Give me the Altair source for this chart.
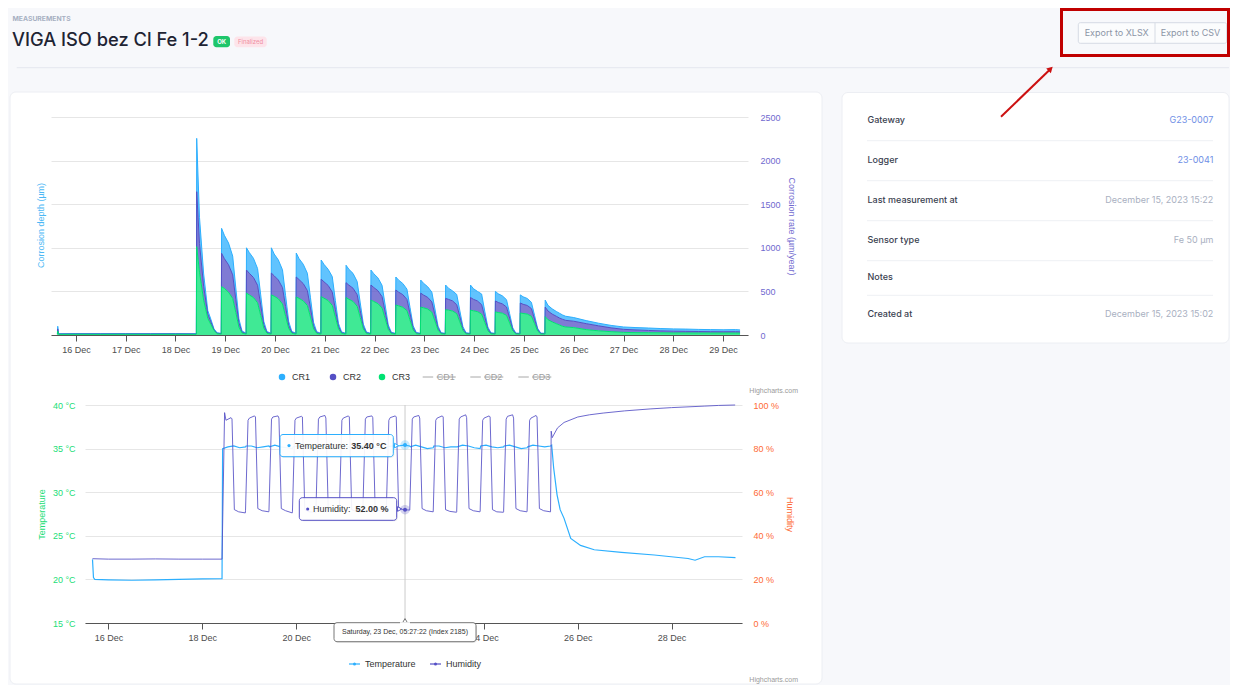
import altair as alt
import pandas as pd
from datetime import datetime, timedelta

# ---------------- data ----------------
CR_SERIES = ["CR1", "CR2", "CR3"]
CD_SERIES = ["CD1", "CD2", "CD3"]

CR_PRE_TIMES = ["2023-12-15T15:05", "2023-12-15T15:15", "2023-12-15T15:40",
                "2023-12-16T00:00", "2023-12-16T12:00", "2023-12-17T00:00",
                "2023-12-17T12:00", "2023-12-18T00:00", "2023-12-18T10:00"]
CR1_PRE = [5, 30, 4, 5, 4, 5, 4, 5, 4]
CR2_PRE = [4, 25, 4, 4, 5, 4, 5, 4, 4]
CR3_PRE = [6, 45, 7, 8, 7, 8, 7, 8, 7]

CYCLE_START = "2023-12-18T10:05"
CYCLE_HOURS = 12
CR_CYCLE_OFFSETS_H = [0, 0.15, 1.5, 3.5, 5.5, 7, 8.5, 10]
CR1_CYCLES = [
    [5, 612, 300, 140, 40, 30, 10, 5],
    [5, 286, 268, 250, 215, 130, 45, 12],
    [5, 255, 238, 220, 192, 115, 38, 10],
    [5, 290, 250, 230, 205, 125, 42, 11],
    [5, 275, 240, 222, 198, 118, 40, 11],
    [5, 220, 200, 185, 178, 100, 33, 9],
    [5, 200, 182, 170, 152, 90, 30, 8],
    [5, 172, 158, 148, 130, 78, 26, 7],
    [5, 149, 138, 128, 118, 68, 23, 7],
    [5, 150, 135, 122, 112, 66, 22, 6],
    [5, 153, 128, 115, 118, 66, 22, 6],
    [5, 143, 122, 110, 122, 64, 21, 6],
    [5, 110, 100, 92, 84, 50, 17, 5],
    [5, 93, 86, 80, 72, 42, 14, 5],
    [5, 80, 65, 60, 55, 55, 50, 47],
]
CR2_CYCLES = [
    [5, 630, 330, 160, 50, 30, 10, 5],
    [5, 383, 340, 315, 270, 150, 50, 12],
    [5, 265, 248, 230, 200, 120, 40, 10],
    [5, 250, 234, 216, 188, 112, 38, 10],
    [5, 229, 215, 198, 172, 104, 35, 9],
    [5, 200, 188, 174, 152, 90, 30, 8],
    [5, 170, 162, 152, 132, 78, 26, 8],
    [5, 173, 160, 148, 130, 78, 26, 7],
    [5, 172, 156, 145, 128, 76, 25, 7],
    [5, 160, 146, 134, 118, 72, 24, 6],
    [5, 130, 124, 116, 102, 62, 21, 6],
    [5, 145, 132, 122, 108, 64, 21, 6],
    [5, 125, 115, 107, 96, 57, 19, 5],
    [5, 115, 105, 99, 88, 53, 18, 5],
    [5, 110, 100, 90, 85, 80, 80, 76],
]
CR3_CYCLES = [
    [10, 1013, 720, 400, 190, 120, 50, 15],
    [10, 554, 535, 490, 420, 260, 90, 22],
    [10, 480, 460, 430, 370, 225, 78, 20],
    [10, 460, 445, 415, 355, 215, 75, 20],
    [10, 436, 420, 392, 338, 205, 70, 18],
    [10, 440, 422, 395, 340, 205, 70, 18],
    [10, 430, 410, 385, 330, 200, 68, 17],
    [10, 400, 385, 360, 310, 188, 64, 16],
    [10, 344, 335, 318, 280, 170, 58, 15],
    [10, 320, 312, 298, 262, 160, 55, 14],
    [10, 290, 285, 275, 245, 150, 52, 13],
    [10, 285, 278, 268, 240, 146, 50, 13],
    [10, 265, 258, 250, 225, 138, 47, 12],
    [10, 252, 247, 240, 215, 132, 45, 12],
    [10, 210, 175, 150, 130, 115, 100, 92],
]
CR_TAIL_TIMES = ["2023-12-26T00:00", "2023-12-26T06:00", "2023-12-26T12:00", "2023-12-26T18:00",
                 "2023-12-27T00:00", "2023-12-27T06:00", "2023-12-27T12:00", "2023-12-27T18:00",
                 "2023-12-28T00:00", "2023-12-28T06:00", "2023-12-28T12:00", "2023-12-28T18:00",
                 "2023-12-29T00:00", "2023-12-29T06:00", "2023-12-29T08:10"]
CR1_TAIL = [42, 35, 30, 28, 27, 27, 28, 27, 26, 26, 24, 24, 23, 24, 22]
CR2_TAIL = [73, 68, 57, 44, 35, 31, 26, 22, 20, 18, 17, 15, 14, 15, 14]
CR3_TAIL = [85, 62, 48, 38, 30, 27, 26, 25, 24, 24, 23, 23, 23, 23, 22]

TEMP_PRE_TIMES = ["2023-12-15T15:50", "2023-12-15T16:20", "2023-12-15T17:00", "2023-12-16T00:00",
                  "2023-12-16T12:00", "2023-12-17T00:00", "2023-12-17T12:00", "2023-12-18T00:00",
                  "2023-12-18T10:00"]
TEMP_PRE = [22.3, 20.2, 20.0, 19.95, 19.9, 19.95, 20.0, 20.05, 20.1]
TEMP_CYCLE_OFFSETS_H = [0, 0.3, 3, 6, 9]
TEMP_CYCLES = [
    [20.1, 35.0, 35.2, 35.3, 35.1],
    [35.2, 35.3, 35.3, 35.1, 35.2],
    [35.3, 35.2, 35.4, 35.2, 35.1],
    [35.0, 35.2, 35.3, 35.3, 35.2],
    [35.1, 35.2, 35.4, 35.2, 35.0],
    [35.1, 35.3, 35.3, 35.1, 35.2],
    [35.3, 35.2, 35.4, 35.2, 35.1],
    [35.0, 35.2, 35.3, 35.3, 35.4],
    [35.3, 35.2, 35.4, 35.2, 35.0],
    [35.1, 35.3, 35.3, 35.1, 35.2],
    [35.2, 35.2, 35.4, 35.3, 35.1],
    [35.0, 35.3, 35.4, 35.2, 35.1],
    [35.2, 35.3, 35.4, 35.2, 35.0],
    [35.1, 35.2, 35.4, 35.3, 35.2],
]
TEMP_TAIL_TIMES = ["2023-12-25T10:05", "2023-12-25T10:40", "2023-12-25T11:40", "2023-12-25T13:25",
                   "2023-12-25T15:00", "2023-12-25T17:00", "2023-12-25T20:25", "2023-12-26T01:25",
                   "2023-12-26T08:25", "2023-12-26T22:20", "2023-12-27T15:10", "2023-12-28T08:25",
                   "2023-12-28T12:00", "2023-12-28T16:50", "2023-12-29T00:00", "2023-12-29T08:40"]
TEMP_TAIL = [35.3, 35.4, 32.8, 29.7, 28.0, 27.0, 24.7, 23.9, 23.4, 23.1, 22.8, 22.4, 22.2, 22.6, 22.6, 22.5]

HUM_PRE_TIMES = ["2023-12-15T15:50", "2023-12-16T00:00", "2023-12-16T12:00", "2023-12-17T00:00",
                 "2023-12-17T12:00", "2023-12-18T00:00", "2023-12-18T10:00"]
HUM_PRE = [29.5, 29.3, 29.3, 29.4, 29.3, 29.3, 29.3]
HUM_CYCLE_OFFSETS_H = [0, 1.3, 2.0, 4.6, 5.1, 6.3, 8.5, 11.9]
HUM_CYCLES = [
    [29.3, 96.5, 93.0, 94.2, 93.6, 52.0, 51.0, 50.5],
    [51.5, 93.0, 94.0, 95.0, 94.5, 52.5, 51.5, 51.0],
    [51.5, 93.5, 94.5, 95.0, 94.0, 52.5, 51.5, 50.5],
    [51.0, 93.0, 94.0, 94.8, 94.5, 52.0, 51.0, 50.8],
    [51.0, 93.5, 94.5, 95.2, 94.0, 52.5, 51.5, 51.0],
    [51.5, 93.0, 94.0, 95.0, 94.5, 52.0, 51.2, 50.8],
    [51.2, 93.5, 94.5, 95.0, 94.2, 52.5, 51.5, 51.0],
    [51.5, 93.0, 94.2, 95.0, 94.5, 53.0, 52.0, 51.8],
    [51.8, 93.5, 94.5, 95.2, 94.0, 52.5, 51.5, 51.0],
    [51.0, 93.0, 94.0, 95.0, 94.5, 52.0, 51.2, 50.8],
    [51.0, 93.5, 94.5, 95.5, 94.2, 52.5, 51.5, 51.0],
    [51.2, 93.0, 94.0, 95.0, 94.5, 52.0, 51.0, 50.8],
    [51.0, 93.5, 94.8, 95.5, 94.0, 52.5, 51.5, 51.0],
    [51.2, 93.0, 94.0, 95.2, 94.5, 52.5, 51.5, 51.0],
]
HUM_TAIL_TIMES = ["2023-12-25T10:05", "2023-12-25T10:25", "2023-12-25T10:55", "2023-12-25T13:40",
                  "2023-12-25T17:00", "2023-12-26T00:00", "2023-12-26T06:00", "2023-12-26T13:00",
                  "2023-12-27T00:00", "2023-12-27T13:00", "2023-12-28T00:00", "2023-12-28T17:00",
                  "2023-12-29T00:00", "2023-12-29T08:30"]
HUM_TAIL = [51.0, 88.0, 85.0, 89.5, 92.0, 94.5, 95.5, 96.3, 97.3, 98.2, 98.8, 99.5, 99.8, 100.0]

HOVER_TIME = "2023-12-22T07:40"
HOVER_TEMP = 35.40
HOVER_HUM = 52.00
HOVER_HEADER = "Saturday, 23 Dec, 05:27:22 (Index 2185)"

INFO_LABELS = ["Gateway", "Logger", "Last measurement at", "Sensor type", "Notes", "Created at"]
INFO_VALUES = ["G23-0007", "23-0041", "December 15, 2023 15:22", "Fe 50 µm", "", "December 15, 2023 15:02"]
INFO_LINKS = [True, True, False, False, False, False]

PAGE_KICKER = "MEASUREMENTS"
PAGE_TITLE = "VIGA ISO bez Cl Fe 1-2"
BADGES = ["OK", "Finalized"]
BUTTONS = ["Export to XLSX", "Export to CSV"]
CREDIT = "Highcharts.com"

# ---------------- build tables ----------------
def iso(d):
    return d.strftime("%Y-%m-%dT%H:%M:%S")

start = datetime.fromisoformat(CYCLE_START)

def cycle_times(offsets, k):
    onset = start + timedelta(hours=CYCLE_HOURS * k)
    return [iso(onset + timedelta(hours=h)) for h in offsets]

cr_rows = []
for name, pre, cycles, tail in [("CR1", CR1_PRE, CR1_CYCLES, CR1_TAIL),
                                ("CR2", CR2_PRE, CR2_CYCLES, CR2_TAIL),
                                ("CR3", CR3_PRE, CR3_CYCLES, CR3_TAIL)]:
    so = {"CR3": 1, "CR2": 2, "CR1": 3}[name]
    for t, v in zip(CR_PRE_TIMES, pre):
        cr_rows.append({"t": t + ":00", "series": name, "value": v, "so": so})
    for k, vals in enumerate(cycles):
        for t, v in zip(cycle_times(CR_CYCLE_OFFSETS_H, k), vals):
            cr_rows.append({"t": t, "series": name, "value": v, "so": so})
    for t, v in zip(CR_TAIL_TIMES, tail):
        cr_rows.append({"t": t + ":00", "series": name, "value": v, "so": so})
cr_df = pd.DataFrame(cr_rows)

temp_rows = [{"t": t + ":00", "value": v} for t, v in zip(TEMP_PRE_TIMES, TEMP_PRE)]
for k, vals in enumerate(TEMP_CYCLES):
    for t, v in zip(cycle_times(TEMP_CYCLE_OFFSETS_H, k), vals):
        temp_rows.append({"t": t, "value": v})
temp_rows += [{"t": t + ":00", "value": v} for t, v in zip(TEMP_TAIL_TIMES, TEMP_TAIL)]
temp_df = pd.DataFrame(temp_rows)

hum_rows = [{"t": t + ":00", "value": v} for t, v in zip(HUM_PRE_TIMES, HUM_PRE)]
for k, vals in enumerate(HUM_CYCLES):
    for t, v in zip(cycle_times(HUM_CYCLE_OFFSETS_H, k), vals):
        hum_rows.append({"t": t, "value": v})
hum_rows += [{"t": t + ":00", "value": v} for t, v in zip(HUM_TAIL_TIMES, HUM_TAIL)]
hum_df = pd.DataFrame(hum_rows)

hover_df = pd.DataFrame({"t": [HOVER_TIME + ":00"], "temp": [HOVER_TEMP], "hum": [HOVER_HUM]})

# ---------------- style ----------------
BLUE = "#2caffe"
PURPLE = "#544fc5"
GREEN = "#00e272"
ORANGE = "#fe6a35"
HC_FONT = "Liberation Sans"
UI_FONT = "Inter"
PAGE_BG = "#f7f8fb"
AXIS_TXT = "#4d4d4d"

ONE = pd.DataFrame({"k": [0]})

def txt(o, x, y, s, size=9, color="#333333", align="left", weight="normal", font=HC_FONT,
        angle=0, baseline="middle"):
    props = dict(text=s, fontSize=size, color=color, align=align, baseline=baseline,
                 font=font, fontWeight=weight)
    if angle:
        props["angle"] = angle
    return alt.Chart(ONE).mark_text(**props).encode(x=alt.value(x - o[0]), y=alt.value(y - o[1]))

def rect(o, x, y, x2, y2, fill, stroke=None, sw=1, r=0, fill_opacity=1, opacity=1):
    props = dict(fill=fill, fillOpacity=fill_opacity, cornerRadius=r, opacity=opacity)
    if stroke:
        props.update(stroke=stroke, strokeWidth=sw)
    return alt.Chart(ONE).mark_rect(**props).encode(
        x=alt.value(x - o[0]), x2=alt.value(x2 - o[0]),
        y=alt.value(y - o[1]), y2=alt.value(y2 - o[1]))

def seg(o, x, y, x2, y2, color, sw=1):
    return alt.Chart(ONE).mark_rule(color=color, strokeWidth=sw).encode(
        x=alt.value(x - o[0]), x2=alt.value(x2 - o[0]),
        y=alt.value(y - o[1]), y2=alt.value(y2 - o[1]))

def sym(o, x, y, shape, size, fill, stroke=None, sw=1, angle=0, opacity=1):
    props = dict(shape=shape, size=size, filled=True, fill=fill, opacity=opacity)
    if stroke:
        props.update(stroke=stroke, strokeWidth=sw)
    else:
        props.update(strokeWidth=0)
    if angle:
        props["angle"] = angle
    return alt.Chart(ONE).mark_point(**props).encode(x=alt.value(x - o[0]), y=alt.value(y - o[1]))

def D(d, h=0, mi=0):
    return alt.DateTime(year=2023, month=12, date=d, hours=h, minutes=mi)

X_DOMAIN = [D(15, 12), D(29, 12)]

# ---------------- header / page decorations ----------------
HH = 10
OH = (51, 117 - 70 - HH)
deco = [
    rect(OH, 8, 8, 1230, 684, PAGE_BG),
    rect(OH, 10, 92, 822, 684, "white", stroke="#eceef3", r=6),
    rect(OH, 842, 92.5, 1229, 343, "white", stroke="#eceef3", r=6),
    txt(OH, 12.5, 18.5, PAGE_KICKER, size=6.8, color="#a7b0c2", weight="bold", font=UI_FONT),
    txt(OH, 12, 46, PAGE_TITLE, size=18.3, color="#1e2433", weight=500, font=UI_FONT,
        baseline="alphabetic"),
    rect(OH, 213.3, 36, 230, 47.3, "#1ec66b", r=3),
    txt(OH, 221.7, 41.8, BADGES[0], size=6, color="white", align="center", weight="bold", font=UI_FONT),
    rect(OH, 234.3, 36.5, 266.7, 47.3, "#fde4ea", r=3),
    txt(OH, 250.5, 42, BADGES[1], size=6, color="#f08ea2", align="center", font=UI_FONT),
    seg(OH, 16.7, 67.7, 1229, 67.7, "#e4e7ee"),
    rect(OH, 1078.3, 22.7, 1226.7, 43.3, "#fbfcfd", stroke="#d6dbe4", r=2),
    seg(OH, 1155, 22.7, 1155, 43.3, "#d6dbe4"),
    txt(OH, 1116.7, 32.8, BUTTONS[0], size=9, color="#8c95a6", align="center", font=UI_FONT),
    txt(OH, 1190.5, 32.8, BUTTONS[1], size=9, color="#8c95a6", align="center", font=UI_FONT),
    rect(OH, 1061.5, 9.5, 1228.5, 55.5, "white", stroke="#c00000", sw=3, fill_opacity=0),
    seg(OH, 1001, 116.7, 1050, 69.5, "#cc1111", sw=2),
    sym(OH, 1050.6, 68.8, "triangle-up", 45, "#cc1111", angle=46),
]
info_rows_y = [120, 160, 200, 240, 276.7, 314]
info_sep_y = [140.7, 180.7, 220.7, 260.7, 295.3]
for yy in info_sep_y:
    deco.append(seg(OH, 867, yy, 1213, yy, "#eef0f4"))
for lab, val, link, yy in zip(INFO_LABELS, INFO_VALUES, INFO_LINKS, info_rows_y):
    deco.append(txt(OH, 867.5, yy, lab, size=9, color="#3a4150", weight=500, font=UI_FONT))
    if val:
        deco.append(txt(OH, 1213.3, yy, val, size=9, color="#6f8fe6" if link else "#a9b0c1",
                        align="right", font=UI_FONT))
header = alt.layer(*deco).properties(width=697, height=HH)

# ---------------- top chart: corrosion ----------------
OT = (51, 117)
x_top = alt.X("t:T", title=None,
              scale=alt.Scale(domain=X_DOMAIN),
              axis=alt.Axis(values=[D(d) for d in range(16, 30)], format="%d %b", grid=False,
                            tickSize=6, labelPadding=4, labelFlush=False, labelColor=AXIS_TXT,
                            domainColor="#555555", tickColor="#555555"))
area = alt.Chart(cr_df).mark_area(fillOpacity=0.75, interpolate="linear",
                                  line={"strokeWidth": 1}).encode(
    x=x_top,
    y=alt.Y("value:Q", stack="zero",
            scale=alt.Scale(domain=[0, 2500], nice=False),
            axis=alt.Axis(orient="right", values=[0, 500, 1000, 1500, 2000, 2500], format="d",
                          grid=True, domain=False, ticks=False, labelPadding=12,
                          labelColor="#6f69cf", title="Corrosion rate (µm/year)",
                          titleColor="#6f69cf", titlePadding=6)),
    color=alt.Color("series:N", scale=alt.Scale(domain=CR_SERIES, range=[BLUE, PURPLE, GREEN]),
                    legend=None),
    order=alt.Order("so:Q", sort="ascending"),
)
top_layers = [area,
              txt(OT, 40.7, 225.5, "Corrosion depth (µm)", size=9, color="#4cb8f5",
                  align="center", angle=270)]
leg_y = 377
cr_sym_x = [282, 333, 382]
for name, col, sx in zip(CR_SERIES, [BLUE, PURPLE, GREEN], cr_sym_x):
    top_layers.append(sym(OT, sx, leg_y, "circle", 42, col))
    top_layers.append(txt(OT, sx + 10, leg_y, name, size=9, color="#333333"))
cd_sym_x = [422.7, 470.3, 518.3]
for name, sx in zip(CD_SERIES, cd_sym_x):
    top_layers.append(seg(OT, sx, leg_y, sx + 10.5, leg_y, "#a8a8a8"))
    top_layers.append(txt(OT, sx + 14, leg_y, name, size=9, color="#a0a0a0"))
    top_layers.append(seg(OT, sx + 14, leg_y, sx + 33, leg_y, "#a0a0a0"))
top_layers.append(txt(OT, 798, 391.3, CREDIT, size=7, color="#9a9a9a", align="right"))
top = alt.layer(*top_layers).properties(width=697, height=218)

# ---------------- bottom chart: temperature / humidity ----------------
OB = (51, 405)
# the 22 Dec label sits under the hover-date tooltip in the reference, so it is not drawn
x_bot = alt.X("t:T", title=None,
              scale=alt.Scale(domain=X_DOMAIN, range=[34, 691]),
              axis=alt.Axis(values=[D(d) for d in [16, 18, 20, 24, 26, 28]], format="%d %b",
                            grid=False, tickSize=6, labelPadding=4, labelFlush=False,
                            labelColor=AXIS_TXT, domainColor="#555555", tickColor="#555555"))
y_temp = alt.Y("value:Q", scale=alt.Scale(domain=[15, 40], nice=False),
               axis=alt.Axis(orient="left", offset=-34, values=[15, 20, 25, 30, 35, 40],
                             labelExpr="datum.value + ' °C'", labelColor="#22dd77", grid=True,
                             domain=False, ticks=False, labelPadding=10, title="Temperature",
                             titleColor="#22dd77", titlePadding=6))
y_hum = alt.Y("value:Q", scale=alt.Scale(domain=[0, 100], nice=False),
              axis=alt.Axis(orient="right", values=[0, 20, 40, 60, 80, 100],
                            labelExpr="datum.value + ' %'", labelColor=ORANGE, grid=False,
                            domain=False, ticks=False, labelPadding=11, title="Humidity",
                            titleColor=ORANGE, titlePadding=6))
crosshair = alt.Chart(hover_df).mark_rule(color="#cccccc", strokeWidth=1).encode(x=x_bot)
temp_line = alt.Chart(temp_df).mark_line(color=BLUE, strokeWidth=1.2).encode(x=x_bot, y=y_temp)
hum_line = alt.Chart(hum_df).mark_line(color=PURPLE, strokeWidth=1, opacity=0.85).encode(x=x_bot, y=y_hum)

def hover_pt(field, dom, col, size, op):
    return alt.Chart(hover_df).mark_point(filled=True, size=size, color=col, opacity=op,
                                          strokeWidth=0).encode(
        x=x_bot, y=alt.Y(f"{field}:Q", scale=alt.Scale(domain=dom, nice=False), axis=None))

bot_layers = [crosshair, temp_line, hum_line,
              hover_pt("temp", [15, 40], BLUE, 90, 0.25), hover_pt("temp", [15, 40], BLUE, 16, 1),
              hover_pt("hum", [0, 100], PURPLE, 90, 0.25), hover_pt("hum", [0, 100], PURPLE, 16, 1)]
# temperature tooltip
bot_layers += [
    rect(OB, 281, 435.5, 394.3, 457.7, "#000000", r=3, opacity=0.08),
    rect(OB, 280, 434.5, 393.3, 456.7, "white", stroke=BLUE, r=3, fill_opacity=0.92),
    sym(OB, 396.5, 445.6, "triangle-right", 22, "white", stroke=BLUE),
    sym(OB, 289, 445.6, "circle", 10, BLUE),
    txt(OB, 295, 445.6, "Temperature: ", size=9, color="#333333"),
    txt(OB, 351.3, 445.6, f"{HOVER_TEMP:.2f} °C", size=9, color="#333333", weight="bold"),
]
# humidity tooltip
bot_layers += [
    rect(OB, 300.3, 498.7, 397.7, 521.3, "#000000", r=3, opacity=0.08),
    rect(OB, 299.3, 497.7, 396.7, 520.3, "white", stroke=PURPLE, r=3, fill_opacity=0.92),
    sym(OB, 399.6, 509, "triangle-right", 22, "white", stroke=PURPLE),
    sym(OB, 307.7, 509, "circle", 10, PURPLE),
    txt(OB, 313, 509, "Humidity: ", size=9, color="#333333"),
    txt(OB, 355.5, 509, f"{HOVER_HUM:.2f} %", size=9, color="#333333", weight="bold"),
]
# header tooltip on x axis
bot_layers += [
    rect(OB, 335, 623.7, 477, 642.7, "#000000", r=3, opacity=0.1),
    rect(OB, 334, 622.7, 476, 641.7, "white", stroke="#777777", r=3),
    sym(OB, 405, 620.6, "triangle-up", 22, "white", stroke="#777777"),
    rect(OB, 400, 622.2, 410, 624, "white"),
    txt(OB, 405, 632.3, HOVER_HEADER, size=7, color="#333333", align="center"),
]
# legend
bot_layers += [
    seg(OB, 349, 664, 360, 664, BLUE, sw=1.2), sym(OB, 354.5, 664, "circle", 9, BLUE),
    txt(OB, 365, 664, "Temperature", size=9, color="#333333"),
    seg(OB, 430, 664, 441, 664, PURPLE, sw=1.2), sym(OB, 435.5, 664, "circle", 9, PURPLE),
    txt(OB, 446, 664, "Humidity", size=9, color="#333333"),
    txt(OB, 798, 679.7, CREDIT, size=7, color="#9a9a9a", align="right"),
]
bottom = alt.layer(*bot_layers).resolve_scale(y="independent").properties(width=691, height=218)

chart = alt.vconcat(header, top, bottom, spacing=70, bounds="flush", padding=0).configure(
    background=PAGE_BG
).configure_view(stroke=None).configure_axis(
    labelFont=HC_FONT, titleFont=HC_FONT, labelFontSize=9, titleFontSize=9,
    titleFontWeight="normal", gridColor="#e6e6e6"
)

chart.save("out.html", embed_options={"renderer": "svg", "actions": False})
